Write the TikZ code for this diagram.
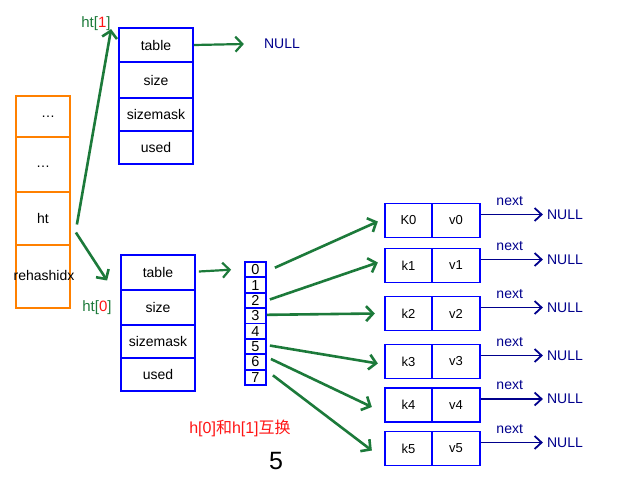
\documentclass[tikz,border=0pt]{standalone}
\usepackage{fontspec}
\setmainfont{Liberation Sans}
\newfontfamily\cjk{Noto Sans CJK SC}
\usetikzlibrary{arrows.meta,calc}
\definecolor{bx}{RGB}{0,0,255}
\definecolor{gr}{RGB}{28,122,58}
\definecolor{nv}{RGB}{0,0,140}
\definecolor{og}{RGB}{255,128,0}
\definecolor{rd}{RGB}{255,20,20}
\begin{document}
\begin{tikzpicture}[x=1pt,y=-1pt,
  every node/.style={font=\fontsize{14}{16}\selectfont, inner sep=0pt},
  cell/.style={draw=bx,line width=1.8pt,minimum width=74pt},
  acell/.style={draw=bx,line width=1.8pt,minimum width=21pt,minimum height=15.4pt,font=\fontsize{14.5}{15}\selectfont},
  kcell/.style={draw=bx,line width=1.8pt,minimum width=47.5pt,minimum height=34pt,font=\fontsize{13}{14}\selectfont},
  ocell/.style={draw=og,line width=1.8pt,minimum width=54pt},
  garrow/.style={draw=gr,line width=2.6pt,-{Straight Barb[length=7pt,width=15pt]}},
  narrow/.style={draw=nv,line width=1.8pt,-{Straight Barb[length=7pt,width=13pt]}},
  nulltxt/.style={text=nv,inner sep=2pt},
  nexttxt/.style={text=nv,font=\fontsize{14}{15}\selectfont}
  ]
\useasboundingbox (0,0) rectangle (640,480);
% orange stack
\node[ocell,minimum height=41pt] (o1) at (43,116.5) {};
\node (d1) at (48,117) {\fontsize{14}{14}\selectfont …};
\node[ocell,minimum height=55pt] (o2) at (43,164.5) {};
\node (d2) at (43,167) {\fontsize{14}{14}\selectfont …};
\node[ocell,minimum height=53pt] (ht) at (43,218.5) {ht};
\node[ocell,minimum height=63pt] (rh) at (43,276.5) {};
\node (rht) at (44,275) {rehashidx};
% ht[1]
\node[cell,minimum height=34pt] (h1t) at (156,45) {table};
\node[cell,minimum height=36pt] (h1s) at (156,80) {size};
\node[cell,minimum height=33pt] (h1m) at (156,114.5) {sizemask};
\node[cell,minimum height=33pt] (h1u) at (156,147.5) {used};
\node (null1) at (282,44) [text=nv] {NULL};
% ht[0]
\node[cell,minimum height=35pt] (h0t) at (158,272.5) {table};
\node[cell,minimum height=35pt] (h0s) at (158,307.5) {size};
\node[cell,minimum height=33pt] (h0m) at (158,341.5) {sizemask};
\node[cell,minimum height=33pt] (h0u) at (158,374.5) {used};
% labels
\node (l1) at (96,24) {\fontsize{15}{16}\selectfont\textcolor{gr}{ht[}\textcolor{rd}{1}\textcolor{gr}{]}};
\node (l0) at (97,308) {\fontsize{15}{16}\selectfont\textcolor{gr}{ht[}\textcolor{rd}{0}\textcolor{gr}{]}};
% array
\foreach \i in {0,...,7}{
  \node[acell] (a\i) at (255.5,{269.7+15.375*\i}) {\i};
}
% entries
\foreach \i/\k/\y in {0/K0/220.5,1/k1/265.5,2/k2/313.5,3/k3/361.5,4/k4/405,5/k5/448.5}{
  \node[kcell] (k\i) at (408.5,\y) {\k};
  \node[kcell,minimum width=48pt] (v\i) at (456,\y) {v\i};
  \node[nulltxt] (n\i) at (565,\y-6) {NULL};
  \draw[narrow,shorten >=2pt] (v\i.east |- n\i) -- node[nexttxt,above=8pt,pos=0.45] {next} (n\i.west);
}
% arrows
\draw[garrow,line width=2.2pt] (h1t.east) -- ($(null1.west)+(-20,0)$);
\draw[garrow,line width=2.2pt] ($(h0t.east)+(3,-1)$) -- ($(a0.west)+(-13,0)$);
\draw[garrow] ($(ht.east)+(6,6)$) -- ($(h1t.north west)+(-7,2)$);
\draw[garrow] ($(ht.east)+(5,14)$) -- ($(h0t.west)+(-13,8)$);
\draw[garrow] ($(a0.east)+(8,-2)$) -- ($(k0.west)+(-6,1)$);
\draw[garrow] ($(a2.east)+(3,-1)$) -- ($(k1.west)+(-6,-3)$);
\draw[garrow] ($(a3.east)+(0,-1)$) -- ($(k2.west)+(-9,0)$);
\draw[garrow] ($(a5.east)+(3,-1)$) -- ($(k3.west)+(-6,2)$);
\draw[garrow] ($(a6.east)+(4,-3)$) -- ($(k4.west)+(-12,2)$);
\draw[garrow] ($(a7.east)+(6,-2)$) -- ($(k5.west)+(-12,2)$);
% bottom texts
\node (sw) at (240,428) {\fontsize{16}{18}\selectfont\color{rd}h[0]{\cjk 和}h[1]{\cjk 互换}};
\node (five) at (276,461) {\fontsize{25}{28}\selectfont 5};
\end{tikzpicture}
\end{document}
